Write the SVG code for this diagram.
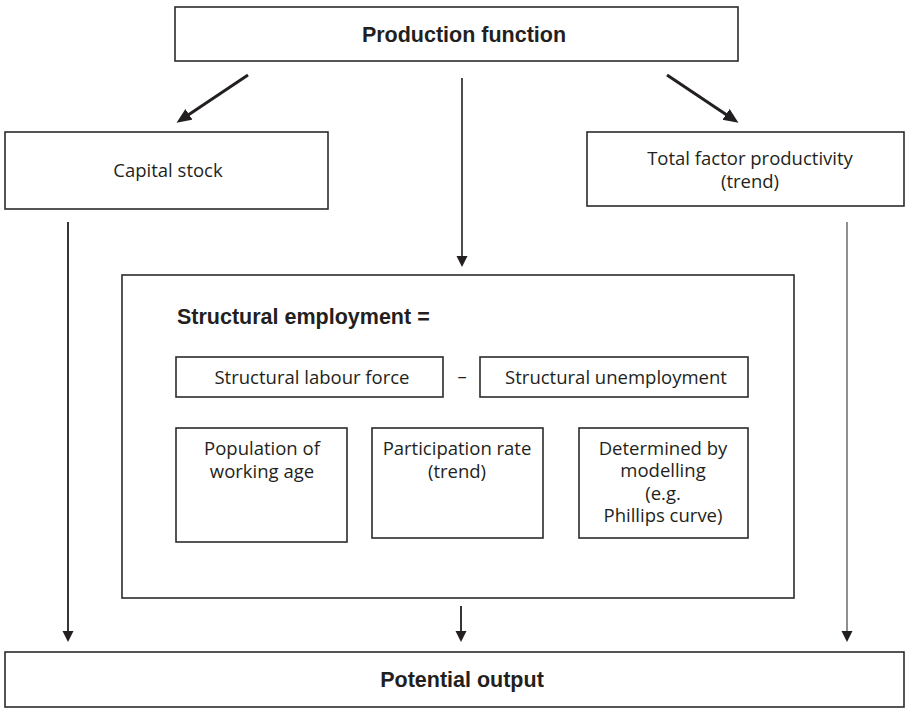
<svg xmlns="http://www.w3.org/2000/svg" width="906" height="721" viewBox="0 0 906 721">
<style>
.box{fill:#fff;stroke:#2b2b2b;stroke-width:1.6}
.t{font-family:"Open Sans","Noto Sans","Liberation Sans",sans-serif;font-size:18.5px;fill:#231f20;text-anchor:middle}
.h{font-family:"Liberation Sans",Arial,sans-serif;font-weight:bold;font-size:21.5px;fill:#231f20}
.c{text-anchor:middle}
.ln{fill:none;stroke:#231f20}
</style>
<defs>
<marker id="ad" markerUnits="userSpaceOnUse" markerWidth="16" markerHeight="14" refX="10" refY="6.5" orient="auto">
<path d="M0,0 L15,6.5 L0,13 z" fill="#231f20"/>
</marker>
<marker id="av" markerUnits="userSpaceOnUse" markerWidth="12" markerHeight="12" refX="8" refY="5.5" orient="auto">
<path d="M0,0 L11,5.5 L0,11 z" fill="#231f20"/>
</marker>
<marker id="au" markerUnits="userSpaceOnUse" markerWidth="12" markerHeight="12" refX="7" refY="4.5" orient="auto">
<path d="M0,0 L10,4.5 L0,9 z" fill="#231f20"/>
</marker>
</defs>

<g id="connectors">
<line class="ln" x1="248" y1="75" x2="180.7" y2="119.9" stroke-width="3" marker-end="url(#ad)"/>
<line class="ln" x1="667" y1="75" x2="734.3" y2="119.9" stroke-width="3" marker-end="url(#ad)"/>
<line class="ln" x1="462" y1="78" x2="462" y2="264" stroke-width="1.6" marker-end="url(#av)"/>
<line class="ln" x1="68" y1="222" x2="68" y2="639" stroke-width="1.8" marker-end="url(#av)"/>
<line class="ln" x1="847" y1="222" x2="847" y2="639" stroke-width="1" marker-end="url(#av)"/>
<line class="ln" x1="461" y1="606" x2="461" y2="639" stroke-width="1.8" marker-end="url(#av)"/>
<line class="ln" x1="265" y1="428" x2="265" y2="403" stroke-width="2.5" marker-end="url(#au)"/>
<line class="ln" x1="408" y1="428" x2="408" y2="403" stroke-width="2.5" marker-end="url(#au)"/>
<line class="ln" x1="660" y1="428" x2="660" y2="403" stroke-width="2.5" marker-end="url(#au)"/>
</g>

<g id="production-function">
<rect class="box" x="175" y="7" width="563" height="54"/>
<text class="h c" x="464" y="42">Production function</text>
</g>

<g id="capital-stock">
<rect class="box" x="5" y="132" width="323" height="77"/>
<text class="t" x="168" y="177">Capital stock</text>
</g>

<g id="total-factor-productivity">
<rect class="box" x="587" y="132" width="317" height="74"/>
<text class="t" x="750" y="165">Total factor productivity</text>
<text class="t" x="750" y="188">(trend)</text>
</g>

<g id="structural-employment">
<rect class="box" x="122" y="275" width="672" height="323"/>
<text class="h" x="177" y="324">Structural employment =</text>
<text class="t" x="462" y="383">–</text>
</g>

<g id="structural-labour-force">
<rect class="box" x="176" y="357" width="267" height="40"/>
<text class="t" x="312" y="384">Structural labour force</text>
</g>

<g id="structural-unemployment">
<rect class="box" x="480" y="357" width="268" height="40"/>
<text class="t" x="616" y="384">Structural unemployment</text>
</g>

<g id="population">
<rect class="box" x="176" y="428" width="171" height="114"/>
<text class="t" x="262" y="455">Population of</text>
<text class="t" x="262" y="478">working age</text>
</g>

<g id="participation-rate">
<rect class="box" x="372" y="428" width="171" height="110"/>
<text class="t" x="457" y="455">Participation rate</text>
<text class="t" x="457" y="478">(trend)</text>
</g>

<g id="determined-by-modelling">
<rect class="box" x="579" y="428" width="169" height="110"/>
<text class="t" x="663" y="455">Determined by</text>
<text class="t" x="663" y="477">modelling</text>
<text class="t" x="663" y="500">(e.g.</text>
<text class="t" x="663" y="522">Phillips curve)</text>
</g>

<g id="potential-output">
<rect class="box" x="5" y="652" width="899" height="55"/>
<text class="h c" x="462" y="687">Potential output</text>
</g>
</svg>
